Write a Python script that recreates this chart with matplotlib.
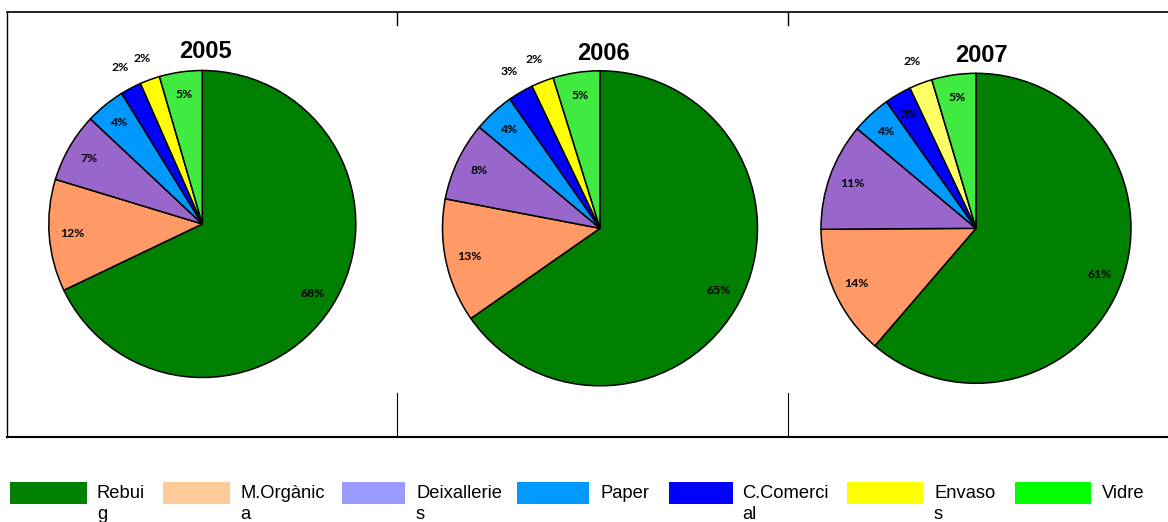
import matplotlib
matplotlib.use("Agg")
import matplotlib.pyplot as plt
from matplotlib.patches import Rectangle
from matplotlib.lines import Line2D
import numpy as np

# ---- data ----
categories = ["Rebuig", "M.Orgànica", "Deixalleries", "Paper", "C.Comercial", "Envasos", "Vidre"]
years = ["2005", "2006", "2007"]
values_2005 = [67.9, 11.8, 7.3, 4.2, 2.2, 2.1, 4.5]
values_2006 = [65.3, 12.7, 8.1, 4.2, 2.6, 2.3, 4.8]
values_2007 = [61.3, 13.6, 11.2, 4.1, 2.8, 2.4, 4.6]
labels_2005 = ["68%", "12%", "7%", "4%", "2%", "2%", "5%"]
labels_2006 = ["65%", "13%", "8%", "4%", "3%", "2%", "5%"]
labels_2007 = ["61%", "14%", "11%", "4%", "3%", "2%", "5%"]
legend_labels = ["Rebui\ng", "M.Orgànic\na", "Deixallerie\ns", "Paper", "C.Comerci\nal", "Envaso\ns", "Vidre"]

# ---- style ----
W, H = 1168, 522
pie_colors = ["#008000", "#FF9966", "#9966CC", "#0099FF", "#0000FF", "#FFFF00", "#40EA40"]
pie_colors_2007 = ["#008000", "#FF9966", "#9966CC", "#0099FF", "#0000FF", "#FFFF66", "#40EA40"]
legend_colors = ["#008000", "#FFCC99", "#9999FF", "#0099FF", "#0000FF", "#FFFF00", "#00FF00"]

fig = plt.figure(figsize=(W / 100, H / 100), dpi=100)
fig.patch.set_facecolor("white")

pies = [
    (values_2005, labels_2005, pie_colors, (202.3, 224.0, 153.5), (205.6, 52.0)),
    (values_2006, labels_2006, pie_colors, (600.0, 228.3, 157.5), (603.5, 53.0)),
    (values_2007, labels_2007, pie_colors_2007, (976.0, 228.3, 155.0), (981.0, 55.5)),
]

for (vals, labs, cols, (cx, cy, r), (tx, ty)), yr in zip(pies, years):
    ax = fig.add_axes([(cx - 1.02 * r) / W, 1 - (cy + 1.02 * r) / H, 2.04 * r / W, 2.04 * r / H])
    wedges, _ = ax.pie(vals, colors=cols, startangle=90, counterclock=False, radius=1.0,
                       wedgeprops=dict(edgecolor="black", linewidth=1.1))
    ax.set_xlim(-1.02, 1.02)
    ax.set_ylim(-1.02, 1.02)
    ax.axis("off")
    for w, lab, v in zip(wedges, labs, vals):
        ang = np.deg2rad((w.theta1 + w.theta2) / 2)
        d = 1.15 if v < 2.7 else 0.85
        ax.text(d * np.cos(ang), d * np.sin(ang), lab, ha="center", va="center",
                fontsize=8.8, fontweight="bold", family="Lato", color="black", clip_on=False)
    fig.text(tx / W, 1 - ty / H, yr, ha="center", va="center", fontsize=17,
             fontweight="bold", family="Liberation Sans", color="black")

# ---- frame lines ----
def hline(y, x0, x1, lw):
    fig.add_artist(Line2D([x0 / W, x1 / W], [1 - y / H, 1 - y / H], color="black", linewidth=lw))

def vline(x, y0, y1, lw):
    fig.add_artist(Line2D([x / W, x / W], [1 - y0 / H, 1 - y1 / H], color="black", linewidth=lw))

hline(11.5, 6.5, 1168, 1.2)
hline(437.3, 6.5, 1168, 1.5)
vline(6.8, 11.5, 437.3, 1.0)
for xv in (397.3, 787.6):
    vline(xv, 11.5, 25, 1.0)
    vline(xv, 393, 437.3, 0.8)

# ---- legend ----
rect_x = [(10, 87), (163, 230), (342, 405), (517, 589), (669, 733), (847, 923), (1015, 1091)]
text_x = [97, 240, 416, 600, 742, 934, 1102]
ry0, ry1 = 482, 504
for (x0, x1), tx, col, lab in zip(rect_x, text_x, legend_colors, legend_labels):
    fig.add_artist(Rectangle((x0 / W, 1 - ry1 / H), (x1 - x0) / W, (ry1 - ry0) / H,
                             transform=fig.transFigure, facecolor=col, edgecolor="none"))
    fig.text(tx / W, 1 - 484.5 / H, lab, ha="left", va="top", fontsize=13.2,
             family="Liberation Sans", color="black", linespacing=1.35)

fig.savefig("out.png", dpi=100, facecolor="white")
